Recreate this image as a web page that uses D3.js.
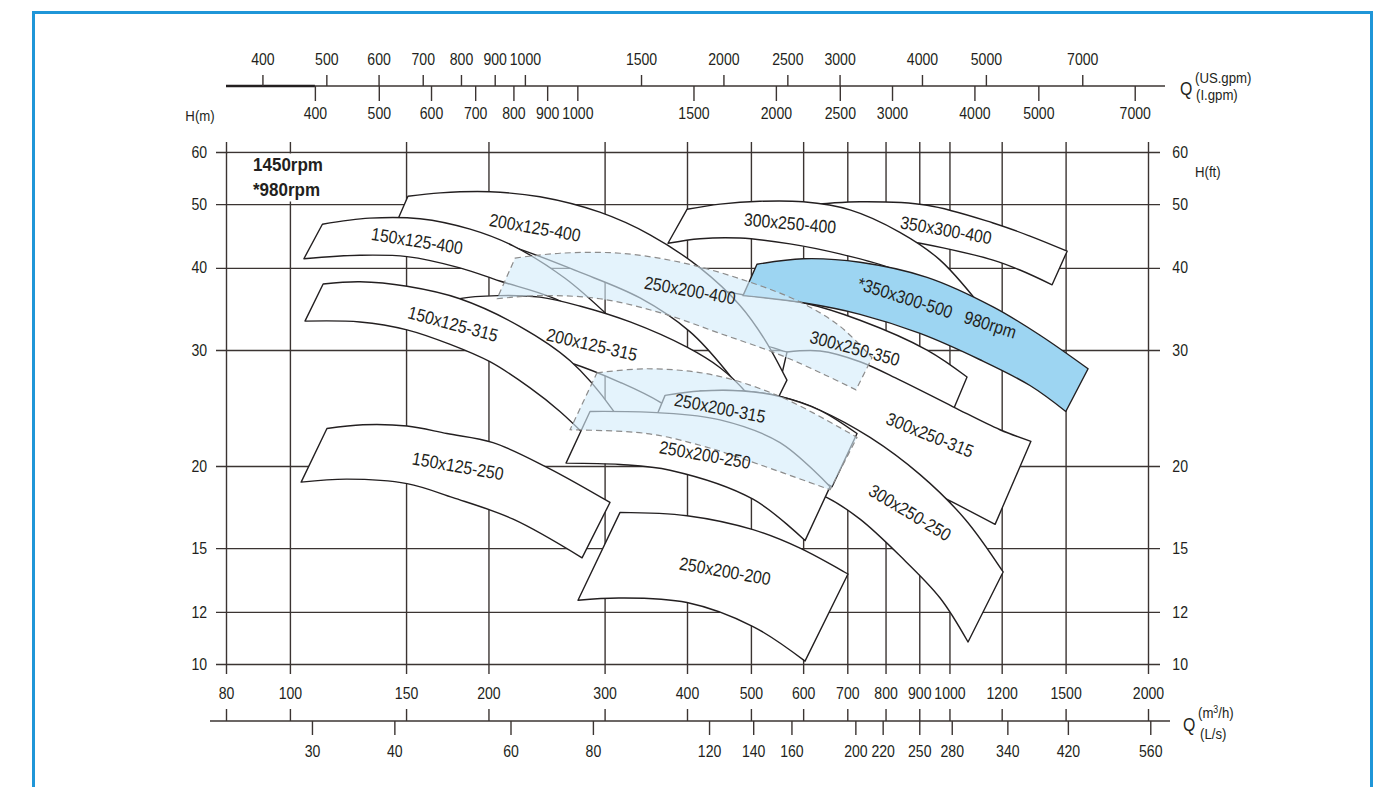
<!DOCTYPE html>
<html><head><meta charset="utf-8">
<script src="https://cdn.jsdelivr.net/npm/d3@7"></script>
<style>
html,body{margin:0;padding:0;background:#fff;}
svg{display:block;font-family:"Liberation Sans",Arial,Helvetica,sans-serif;}
</style></head><body>
<svg id="chart" width="1383" height="787"></svg>
<script>
// ---------------- DATA ----------------
const flowTicks = [80,100,150,200,300,400,500,600,700,800,900,1000,1200,1500,2000]; // m3/h
const headTicks = [10,12,15,20,30,40,50,60];                                        // m
const lpsTicks = [30,40,60,80,120,140,160,200,220,250,280,340,420,560];            // L/s
const usGpmTicks = [400,500,600,700,800,900,1000,1500,2000,2500,3000,4000,5000,7000];
const impGpmTicks = [400,500,600,700,800,900,1000,1500,2000,2500,3000,4000,5000,7000];
const speedNotes = ["1450rpm","*980rpm"];

// band edges: [Q (m3/h), H (m)], left to right
const top_350x300_400 = [[593.5,49.7],[731.8,50.4],[924.8,49.8],[1164.5,46.8],[1324.7,44.7],[1508,42.4]];
const bot_350x300_400 = [[706.6,44.9],[841.4,44.1],[978,42.9],[1164.5,41.1],[1279,39.7],[1431,37.7]];
const top_300x250_400 = [[400,49.1],[449,50.0],[516,50.5],[600,50.4],[706.6,49.0],[841,45.3],[968,41.1],[1152,33.6]];
const bot_300x250_400 = [[374.3,43.6],[418.6,44.3],[481,44.4],[573,43.5],[682,42.0],[813,40.0],[935,37.7],[1038,35.1]];
const top_300x250_350 = [[448.9,37.0],[486.4,36.4],[600,35.4],[731.8,33.3],[924.8,30.0],[1063.3,27.3]];
const bot_300x250_350 = [[448.9,30.5],[521.6,30.5],[567.2,29.8],[593.5,29.6],[706.6,28.6],[841.4,26.6],[1012.7,24.3]];
const top_350x300_500 = [[510.7,40.5],[600,41.3],[731.8,40.8],[924.8,38.7],[1164.5,34.9],[1372,31.6],[1622.5,28.1]];
const bot_350x300_500 = [[486.4,36.3],[600,35.4],[731.8,34.0],[902.5,31.8],[1112.8,29.0],[1324.7,26.5],[1501,24.2]];
const top_300x250_315 = [[567.2,29.8],[636.5,29.9],[731.8,28.8],[841.4,27.0],[1012.7,24.6],[1193,22.7],[1329,21.8]];
const bot_300x250_315 = [[534.5,23.1],[636.5,21.9],[714,20.9],[850,19.2],[1012.7,17.6],[1172.7,16.3]];
const top_200x125_400 = [[151,51.4],[169,52.0],[201,52.2],[239.4,51.3],[295,48.6],[351.6,44.9],[418.6,40.0],[481,35.1],[525,31.1],[567,27.0]];
const bot_200x125_400 = [[144.3,46.3],[175,45.3],[218,43.0],[275,39.4],[339.5,36.0],[404,32.0],[457,28.0],[525,23.1]];
const top_150x125_400 = [[112,46.6],[132,47.6],[157.5,47.5],[187.6,45.8],[218,43.2],[261,38.6],[306,33.6]];
const bot_150x125_400 = [[105,41.3],[127.7,41.8],[150.5,41.6],[181,40.0],[208,38.2],[250.5,36.0],[293,33.1]];
const top_200x125_315 = [[163,34.5],[181,35.9],[208,36.3],[239.4,36.1],[275,35.0],[328,33.1],[400,30.3],[449,28.2],[493,25.8],[534.5,23.1]];
const bot_200x125_315 = [[169,32.0],[208,30.5],[266,28.7],[316.6,26.8],[364,25.0],[418.6,22.5]];
const top_150x125_315 = [[112.3,37.8],[127.7,38.1],[150.5,37.5],[181,35.9],[223,32.6],[266,28.9],[309,24.3],[328,21.9]];
const bot_150x125_315 = [[105.4,33.2],[127.7,33.1],[150.5,32.2],[175,30.6],[201,28.8],[231,26.3],[256.7,24.2],[285,21.9]];
const top_300x250_250 = [[418.6,26.0],[486.4,26.0],[553.5,25.5],[636.5,24.3],[757.9,22.1],[902.5,19.4],[1056,16.6],[1206,13.8]];
const bot_300x250_250 = [[448.9,19.7],[553.5,19.0],[652.3,17.9],[731.8,16.6],[841.4,14.6],[967.8,12.6],[1067,10.8]];
const top_250x200_315 = [[370.5,25.6],[418.6,26.0],[486.4,26.0],[553.5,25.5],[636.5,24.3],[724.2,22.4]];
const bot_250x200_315 = [[357.7,23.5],[404.2,23.1],[481.3,21.9],[573.1,20.1],[663.8,18.6]];
const top_250x200_250 = [[285.1,24.2],[360,24.1],[448.9,23.5],[553.5,21.7],[659.2,18.6]];
const bot_250x200_250 = [[262.2,20.2],[316.6,20.1],[377,19.7],[503.7,17.8],[604,15.4]];
const top_150x125_250 = [[113.8,22.8],[129,23.1],[150.5,23.0],[173,22.4],[203.2,21.7],[245.3,19.9],[305.7,17.6]];
const bot_150x125_250 = [[104,18.9],[122.1,19.1],[150.5,18.8],[176.7,17.9],[218,16.6],[277.3,14.5]];
const top_250x200_200 = [[316.6,17.0],[400,16.8],[503.7,16.0],[593.5,15.0],[701.7,13.7]];
const bot_250x200_200 = [[273.4,12.5],[316.6,12.6],[400,12.4],[503.7,11.4],[604,10.1]];
// extended (dashed, translucent) ranges
const top_range_400 = [[219.5,41.4],[256.7,42.1],[316.6,42.1],[390.3,40.8],[481.3,38.5],[593.5,35.5],[682.4,32.6],[763.2,29.2]];
const bot_range_400 = [[206.1,35.9],[239.4,36.3],[295.2,35.9],[364,34.2],[448.9,31.8],[553.5,29.5],[647.7,27.5],[721.6,26.1]];
const top_range_315 = [[292.1,27.7],[347.9,28.1],[438,27.5],[553.5,25.5],[724.2,22.1]];
const bot_range_315 = [[265.9,22.7],[347.9,22.4],[418.6,21.5],[493.3,20.4],[659.2,18.4]];

// model labels
const labelNames = ["150x125-400","200x125-400","250x200-400","300x250-400","350x300-400","*350x300-500   980rpm",
  "150x125-315","200x125-315","300x250-350","250x200-315","300x250-315","300x250-250","250x200-250","150x125-250","250x200-200"];
const labelQ = [155.9,235.3,404.2,573.1,988.2,957.7,176.7,287.1,718.9,448.9,934.6,871.5,426.0,179.8,456.8];
const labelH = [44.0,46.1,37.0,46.8,45.7,34.8,32.9,30.6,30.2,24.5,22.3,17.0,20.8,20.0,13.85];

// ---------------- LAYOUT / STYLE ----------------
const labelAngle = [9,10,10,5,10,17.5,15,13,15,11,22,31,10,10,10];
const ink = "#231f20", gridCol = "#3b3432";
const cond = 0.88; // condensed look of the original lettering
const svg = d3.select("#chart");

const x = d3.scaleLog().domain([80,2000]).range([226,1148]);
const y = d3.scaleLog().domain([10,60]).range([664,152]);
const xLs = d3.scaleLog().domain([80/3.6,2000/3.6]).range([226,1148]);
const xUs = d3.scaleLog().domain([80*4.40287,2000*4.40287]).range([226,1148]);
const xIg = d3.scaleLog().domain([80*3.66615,2000*3.66615]).range([226,1148]);

// frame
svg.append("rect").attr("x",33.5).attr("y",12.5).attr("width",1338).attr("height",820)
  .attr("fill","#fff").attr("stroke","#1f96d8").attr("stroke-width",3);

function styleAxis(g, fs){
  g.select(".domain").remove();
  g.selectAll("line").attr("stroke",gridCol).attr("stroke-width",1.4);
  g.selectAll("text").attr("fill",ink).style("font-size",fs+"px")
    .style("font-family","'Liberation Sans',Arial,sans-serif")
    .attr("transform",`scale(${cond},1)`);
}
// horizontal grid + left labels
const gl = svg.append("g").attr("transform","translate(216,0)")
  .call(d3.axisLeft(y).tickValues(headTicks).tickFormat(d3.format("d")).tickSize(-944).tickPadding(10));
styleAxis(gl,16);
// right labels
const gr = svg.append("g").attr("transform","translate(1160,0)")
  .call(d3.axisRight(y).tickValues(headTicks).tickFormat(d3.format("d")).tickSize(0).tickPadding(14));
styleAxis(gr,16);
// vertical grid
const gv = svg.append("g").attr("transform","translate(0,674)")
  .call(d3.axisBottom(x).tickValues(flowTicks).tickFormat("").tickSize(-532));
styleAxis(gv,16);

// rpm note box
svg.append("rect").attr("x",228).attr("y",153.5).attr("width",112).attr("height",48).attr("fill","#fff");
svg.append("g").selectAll("text").data(speedNotes).join("text")
  .attr("transform",(d,i)=>`translate(253,${171+i*24.5}) scale(0.92,1)`).text(d=>d)
  .attr("fill",ink).style("font-size","18.5px").style("font-weight","bold");

// bands
const lineGen = d3.line().x(d=>x(d[0])).y(d=>y(d[1])).curve(d3.curveCatmullRom.alpha(0.5));
function bandPath(top, bot){
  const a = lineGen(top);
  const b = lineGen(bot.slice().reverse());
  return a + "L" + b.slice(1) + "Z";
}
const bands = [
  [top_350x300_400,bot_350x300_400,"w"],
  [top_300x250_400,bot_300x250_400,"w"],
  [top_300x250_350,bot_300x250_350,"w"],
  [top_350x300_500,bot_350x300_500,"b"],
  [top_300x250_315,bot_300x250_315,"w"],
  [top_200x125_400,bot_200x125_400,"w"],
  [top_150x125_400,bot_150x125_400,"w"],
  [top_200x125_315,bot_200x125_315,"w"],
  [top_150x125_315,bot_150x125_315,"w"],
  [top_300x250_250,bot_300x250_250,"w"],
  [top_250x200_315,bot_250x200_315,"w"],
  [top_250x200_250,bot_250x200_250,"w"],
  [top_150x125_250,bot_150x125_250,"w"],
  [top_250x200_200,bot_250x200_200,"w"],
  [top_range_400,bot_range_400,"r"],
  [top_range_315,bot_range_315,"r"]
];
svg.append("g").selectAll("path").data(bands).join("path")
  .attr("d",d=>bandPath(d[0],d[1]))
  .attr("fill",d=>d[2]==="b"?"#9dd5f2":(d[2]==="r"?"rgb(212,236,250)":"#fff"))
  .attr("fill-opacity",d=>d[2]==="r"?0.62:1)
  .attr("stroke",d=>d[2]==="r"?"#8c8c8c":ink)
  .attr("stroke-width",d=>d[2]==="r"?1.2:1.4)
  .attr("stroke-dasharray",d=>d[2]==="r"?"6,4":null)
  .attr("stroke-linejoin","round");

// labels
svg.append("g").selectAll("text").data(labelNames).join("text")
  .attr("transform",(d,i)=>`translate(${x(labelQ[i])},${y(labelH[i])}) rotate(${labelAngle[i]}) scale(${cond},1)`)
  .attr("text-anchor","middle").attr("dy","0.36em")
  .style("white-space","pre").style("font-size","18px").attr("fill",ink)
  .text(d=>d);

// bottom dual axis
const axY = 721;
svg.append("line").attr("x1",210).attr("x2",1170).attr("y1",axY).attr("y2",axY).attr("stroke",gridCol).attr("stroke-width",1.4);
const gq = svg.append("g").attr("transform",`translate(0,${axY})`)
  .call(d3.axisTop(x).tickValues(flowTicks).tickFormat(d3.format("d")).tickSize(12).tickPadding(10));
styleAxis(gq,16);
const gls = svg.append("g").attr("transform",`translate(0,${axY})`)
  .call(d3.axisBottom(xLs).tickValues(lpsTicks).tickFormat(d3.format("d")).tickSize(14).tickPadding(11));
styleAxis(gls,16);

// top dual axis
const tY = 86;
svg.append("line").attr("x1",226).attr("x2",1165).attr("y1",tY).attr("y2",tY).attr("stroke",gridCol).attr("stroke-width",1.4);
svg.append("line").attr("x1",226).attr("x2",xIg(impGpmTicks[0])).attr("y1",tY).attr("y2",tY).attr("stroke",ink).attr("stroke-width",2.3);
const gus = svg.append("g").attr("transform",`translate(0,${tY})`)
  .call(d3.axisTop(xUs).tickValues(usGpmTicks).tickFormat(d3.format("d")).tickSize(11).tickPadding(10));
styleAxis(gus,16);
const gig = svg.append("g").attr("transform",`translate(0,${tY})`)
  .call(d3.axisBottom(xIg).tickValues(impGpmTicks).tickFormat(d3.format("d")).tickSize(15).tickPadding(7));
styleAxis(gig,16);

// unit texts
const t = (tx,ty,s,fs,anchor)=>svg.append("text").attr("transform",`translate(${tx},${ty}) scale(${cond},1)`).text(s)
  .attr("fill",ink).style("font-size",fs+"px").attr("text-anchor",anchor||"start");
t(200,121,"H(m)",15,"middle");
t(1195,177,"H(ft)",15);
t(1180,95,"Q",18);
t(1195,83,"(US.gpm)",15);
t(1196,100,"(I.gpm)",15);
t(1183,731,"Q",18);
const mu = svg.append("text").attr("transform",`translate(1198,718) scale(${cond},1)`).attr("fill",ink).style("font-size","15px");
mu.append("tspan").text("(m");
mu.append("tspan").text("3").attr("dy",-5).style("font-size","10px");
mu.append("tspan").text("/h)").attr("dy",5);
t(1200,739,"(L/s)",15);
</script>
</body></html>
